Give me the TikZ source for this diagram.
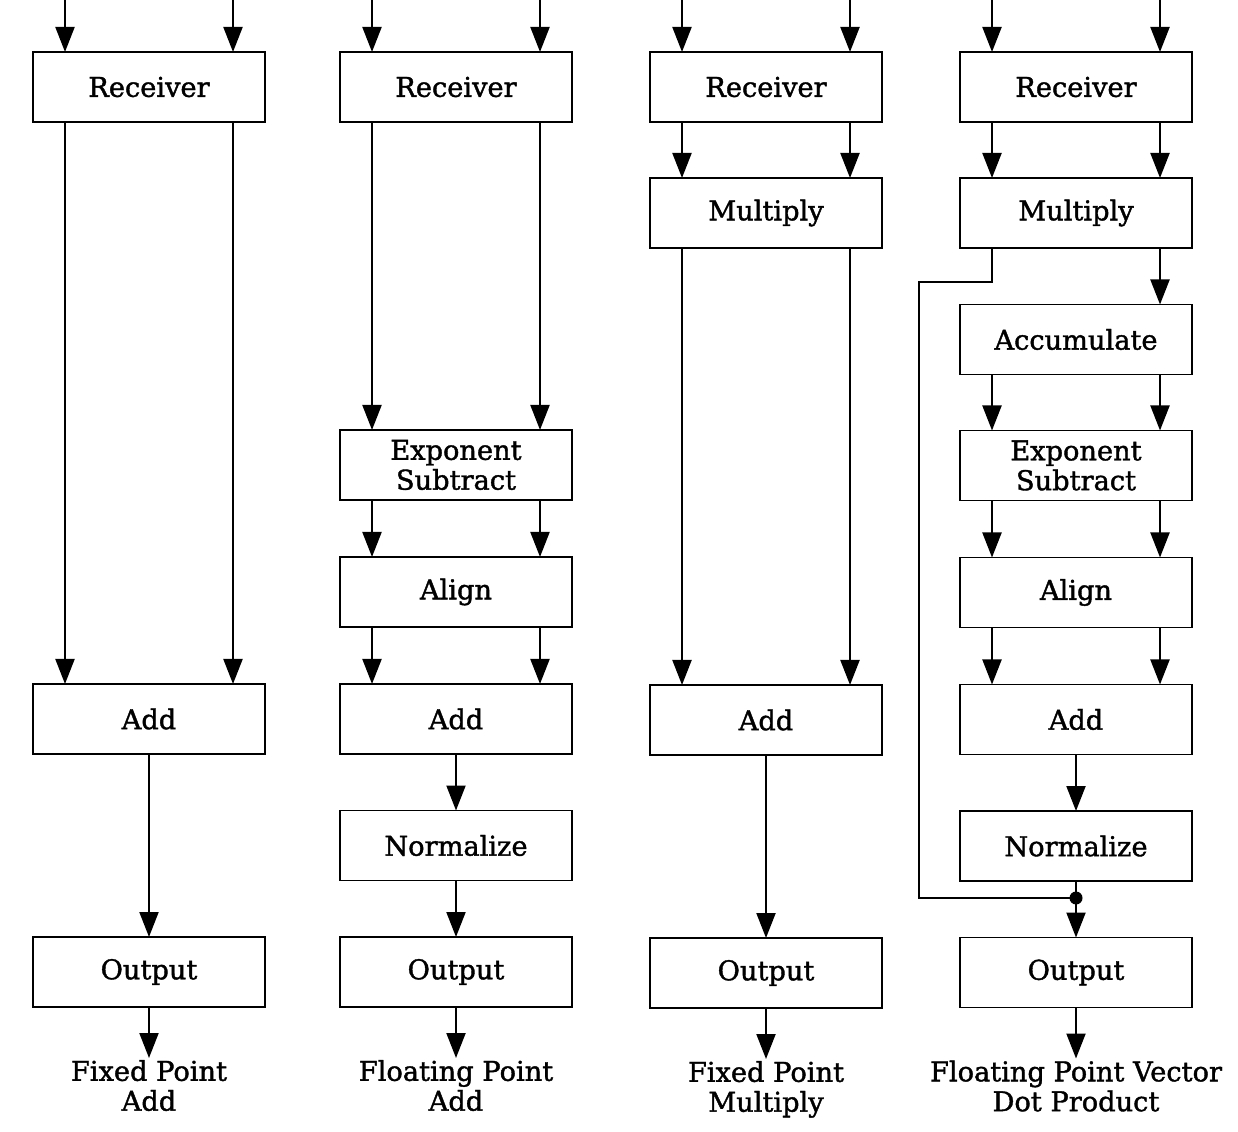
\documentclass[tikz,border=0pt]{standalone}
\usepackage{fontspec}
\setmainfont{DejaVu Serif}
\newfontfamily\boxfont{DejaVu Serif}[FakeBold=1.4]
\usetikzlibrary{positioning,arrows.meta}

\begin{document}
\begin{tikzpicture}[
  block/.style={rectangle, draw=black, line width=1.1pt, minimum width=46.4mm,
    minimum height=14mm, inner sep=2pt, outer sep=0pt, align=center,
    font=\boxfont\fontsize{15.5}{17}\selectfont},
  caption/.style={align=center, inner sep=1pt, font=\boxfont\fontsize{15.5}{17}\selectfont},
  arrow/.style={-{Triangle[length=5mm,width=3.8mm]}, line width=1.2pt},
  wire/.style={line width=1.2pt}]

  \useasboundingbox (0,0) rectangle (247.6mm,-226.4mm);

  % top row
  \node[block] (rec1) at (29.8mm,-17.4mm) {Receiver};
  \node[block, right=15.0mm of rec1] (rec2) {Receiver};
  \node[block, right=15.6mm of rec2] (rec3) {Receiver};
  \node[block, right=15.6mm of rec3] (rec4) {Receiver};

  % fixed point add
  \node[block, below=112.4mm of rec1] (add1) {Add};
  \node[block, below=36.6mm of add1] (out1) {Output};
  \node[caption, below=10.2mm of out1] (cap1) {Fixed Point\\Add};

  % floating point add
  \node[block, below=61.6mm of rec2] (exp2) {Exponent\\Subtract};
  \node[block, below=11.4mm of exp2] (align2) {Align};
  \node[block, below=11.4mm of align2] (add2) {Add};
  \node[block, below=11.3mm of add2] (norm2) {Normalize};
  \node[block, below=11.3mm of norm2] (out2) {Output};
  \node[caption, below=10.2mm of out2] (cap2) {Floating Point\\Add};

  % fixed point multiply
  \node[block, below=11.2mm of rec3] (mul3) {Multiply};
  \node[block, below=87.4mm of mul3] (add3) {Add};
  \node[block, below=36.6mm of add3] (out3) {Output};
  \node[caption, below=10.2mm of out3] (cap3) {Fixed Point\\Multiply};

  % vector dot product
  \node[block, below=11.2mm of rec4] (mul4) {Multiply};
  \node[block, below=11.3mm of mul4] (acc4) {Accumulate};
  \node[block, below=11.2mm of acc4] (exp4) {Exponent\\Subtract};
  \node[block, below=11.4mm of exp4] (align4) {Align};
  \node[block, below=11.4mm of align4] (add4) {Add};
  \node[block, below=11.3mm of add4] (norm4) {Normalize};
  \node[block, below=11.3mm of norm4] (out4) {Output};
  \node[caption, below=10.2mm of out4] (cap4) {Floating Point Vector\\Dot Product};
  \coordinate[below=3.4mm of norm4] (join);

  % inputs
  \foreach \n in {rec1,rec2,rec3,rec4}{
    \draw[arrow] ([xshift=-16.8mm,yshift=10.4mm]\n.north) -- ([xshift=-16.8mm]\n.north);
    \draw[arrow] ([xshift=16.8mm,yshift=10.4mm]\n.north) -- ([xshift=16.8mm]\n.north);
  }

  % paired arrows
  \foreach \a/\b in {rec1/add1, rec2/exp2, exp2/align2, align2/add2,
      rec3/mul3, mul3/add3, rec4/mul4, acc4/exp4, exp4/align4, align4/add4}{
    \draw[arrow] ([xshift=-16.8mm]\a.south) -- ([xshift=-16.8mm]\b.north);
    \draw[arrow] ([xshift=16.8mm]\a.south) -- ([xshift=16.8mm]\b.north);
  }

  % single arrows
  \draw[arrow] (add1) -- (out1);
  \draw[arrow] (add2) -- (norm2);
  \draw[arrow] (norm2) -- (out2);
  \draw[arrow] (add3) -- (out3);
  \draw[arrow] (add4) -- (norm4);
  \draw[arrow] (norm4) -- (out4);
  \draw[arrow] ([xshift=16.8mm]mul4.south) -- ([xshift=16.8mm]acc4.north);

  % bypass
  \draw[wire] ([xshift=-16.8mm]mul4.south) -- ++(0,-6.8mm)
    -| ([xshift=-31.4mm]join) -- (join);
  \fill (join) circle (1.3mm);

  % outputs
  \foreach \n in {1,2,3,4}{
    \draw[arrow] (out\n) -- (cap\n);
  }
\end{tikzpicture}
\end{document}
